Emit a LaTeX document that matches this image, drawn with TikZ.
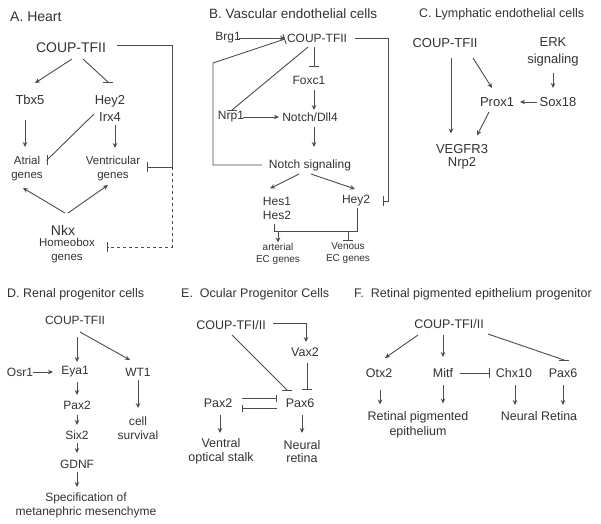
\documentclass[tikz,border=0pt]{standalone}
\usepackage{fontspec}
\setmainfont{Liberation Sans}
\usetikzlibrary{arrows.meta,calc}

\begin{document}
\begin{tikzpicture}[x=1pt,y=-1pt]
\tikzset{every node/.style={inner sep=0pt,align=center,text=black!80}}
\tikzset{ttl/.style={anchor=west,font=\fontsize{12.5}{15}\selectfont}}
\tikzset{f14/.style={font=\fontsize{14}{17}\selectfont}}
\tikzset{f13/.style={font=\fontsize{13}{17}\selectfont}}
\tikzset{f125/.style={font=\fontsize{12.5}{13.5}\selectfont}}
\tikzset{f12/.style={font=\fontsize{12}{14}\selectfont}}
\tikzset{f11/.style={font=\fontsize{11.5}{14}\selectfont}}
\tikzset{f10/.style={font=\fontsize{10}{12}\selectfont}}
\tikzset{lnk/.style={draw=black!70,line width=0.9pt}}
\tikzset{act/.style={lnk,-{Stealth[length=5pt,width=4.5pt]}}}
\tikzset{inh/.style={lnk,-{Bar[width=10pt]}}}
\tikzset{inhs/.style={lnk,-{Bar[width=7pt]}}}

\fill[white] (0,0) rectangle (601,523);
\useasboundingbox (0,0) rectangle (601,523);

% A. Heart
\node[ttl,f14] (tA) at (10,17) {A. Heart};
\node[f14] (coupa) at (71,48) {COUP-TFII};
\node[f13] (tbx5) at (30,100) {Tbx5};
\node[f13] (hey2) at (110,108) {Hey2\\Irx4};
\node[f11] (atrial) at (27,169) {Atrial\\genes};
\node[f11] (ventr) at (113,169) {Ventricular\\genes};
\node[f14] (nkx) at (63,230) {Nkx};
\node[f11] (homeo) at (67,251) {Homeobox\\genes};
\draw[act] ($(coupa)+(1,11)$) -- ($(tbx5)+(5,-17)$);
\draw[inh] ($(coupa)+(12,11)$) -- ($(hey2)+(-2,-26)$) -- ++(0,0.5);
\draw[act] ($(tbx5)+(-5,20)$) -- ($(atrial)+(-2,-22)$);
\draw[act] ($(hey2)+(5,17)$) -- ($(ventr)+(2,-21)$);
\draw[inh] ($(hey2)+(-16,6)$) -- ($(atrial)+(20,-9)$) -- ++(-0.5,0);
\draw[act] ($(nkx)+(2,-17)$) -- ($(atrial)+(-4,19)$);
\draw[act] ($(nkx)+(5,-17)$) -- ($(ventr)+(-5,16)$);
\draw[inh] ($(coupa)+(46,-3)$) -| ($(ventr)+(59,-2)$) -- ($(ventr)+(34,-2)$);
\draw[inh,dashed] ($(ventr)+(59,-2)$) |- ($(homeo)+(40,-4)$);

% B. Vascular endothelial cells
\node[ttl,font=\fontsize{13.5}{15}\selectfont] (tB) at (209,14) {B. Vascular endothelial cells};
\node[f12] (brg1) at (228,38) {Brg1};
\node[f12] (coupb) at (317,38) {COUP-TFII};
\node[f12] (foxc1) at (309,80) {Foxc1};
\node[f12] (nrp1) at (231,117) {Nrp1};
\node[f12] (notch) at (310,117) {Notch/Dll4};
\node[f12] (nsig) at (310,165) {Notch signaling};
\node[f12] (hes) at (277,208.5) {Hes1\\Hes2};
\node[f12] (hey2b) at (356,201) {Hey2};
\node[f10] (arter) at (278,253.5) {arterial\\EC genes};
\node[f10] (venous) at (348,253.5) {Venous\\EC genes};
\draw[act] ($(brg1)+(11,0)$) -- ($(coupb)+(-32,0)$);
\draw[inh] ($(coupb)+(38,0)$) -| ($(hey2b)+(32,0)$) -- ($(hey2b)+(27,0)$);
\draw[inh] ($(coupb)+(-3,9)$) -- ($(foxc1)+(5,-13)$);
\draw[act] ($(foxc1)+(5,10)$) -- ($(notch)+(4,-7)$);
\draw[inh] ($(coupb)+(-9,9)$) -- ($(nrp1)+(1,-7)$) -- ++(0,0.5);
\draw[act] ($(nrp1)+(12,0)$) -- ($(notch)+(-31,0)$);
\draw[act] ($(notch)+(4,10)$) -- ($(nsig)+(4,-18)$);
\draw[inh] ($(nsig)+(-48,0)$) -| ($(coupb)+(-104,25)$) -- ($(coupb)+(-32,1)$);
\draw[act] ($(nsig)+(-11,9)$) -- ($(hes)+(-7,-20)$);
\draw[act] ($(nsig)+(1,9)$) -- ($(hey2b)+(-1,-12)$);
\draw[lnk] ($(hes)+(-3,15)$) |- ($(hey2b)+(1,30)$) -- ($(hey2b)+(1,7)$);
\draw[act] ($(hes)+(1,22.5)$) -- ($(arter)+(0,-11)$);
\draw[inh] ($(hey2b)+(-8,30)$) -- ($(venous)+(0,-13)$);

% C. Lymphatic endothelial cells
\node[ttl] (tC) at (419,14) {C. Lymphatic endothelial cells};
\node[f13] (coupc) at (445,43) {COUP-TFII};
\node[f13] (erk) at (553,51.5) {ERK\\signaling};
\node[f13] (sox18) at (558,102) {Sox18};
\node[f13] (prox1) at (497,102) {Prox1};
\node[f13] (vegfr) at (462,156.5) {VEGFR3\\[-4pt]Nrp2};
\draw[act] ($(erk)+(0,21.5)$) -- ($(sox18)+(-5,-14)$);
\draw[act] ($(sox18)+(-21,0)$) -- ($(prox1)+(23,0)$);
\draw[act] ($(coupc)+(28,15)$) -- ($(prox1)+(-5,-14)$);
\draw[act] ($(coupc)+(6,15)$) -- ($(vegfr)+(-11,-23)$);
\draw[act] ($(prox1)+(-8,10)$) -- ($(vegfr)+(15,-21)$);

% D. Renal progenitor cells
\node[ttl] (tD) at (7,294) {D. Renal progenitor cells};
\node[f12] (coupd) at (75,320) {COUP-TFII};
\node[f12] (osr1) at (20,372) {Osr1};
\node[f12] (eya1) at (75,372) {Eya1};
\node[f12] (wt1) at (138,372) {WT1};
\node[f12] (pax2d) at (77,405) {Pax2};
\node[f12] (six2) at (77,435) {Six2};
\node[f12] (gdnf) at (77,464) {GDNF};
\node[f12] (spec) at (86,505) {Specification of\\metanephric mesenchyme};
\node[f12] (cell) at (138,428.5) {cell\\survival};
\draw[act] ($(coupd)+(2,17)$) -- ($(eya1)+(2,-10)$);
\draw[act] ($(coupd)+(5,12)$) -- ($(wt1)+(-8,-12)$);
\draw[act] ($(osr1)+(13,0)$) -- ($(eya1)+(-22,0)$);
\draw[act] ($(eya1)+(2,10)$) -- ($(pax2d)+(0,-10)$);
\draw[act] ($(pax2d)+(0,10)$) -- ($(six2)+(0,-10)$);
\draw[act] ($(six2)+(0,8)$) -- ($(gdnf)+(0,-11)$);
\draw[act] ($(gdnf)+(0,8)$) -- ($(spec)+(-9,-18)$);
\draw[act] ($(wt1)+(0,8)$) -- ($(cell)+(0,-20.5)$);

% E. Ocular progenitor cells
\node[ttl] (tE) at (181,294) {E.\ \ Ocular Progenitor Cells};
\node[f125] (coupe) at (231,325) {COUP-TFI/II};
\node[f125] (vax2) at (305,352) {Vax2};
\node[f125] (pax2e) at (218,403) {Pax2};
\node[f125] (pax6e) at (300,403) {Pax6};
\node[f125] (ventral) at (221,451.5) {Ventral\\optical stalk};
\node[f125] (neural) at (302,451.5) {Neural\\retina};
\draw[act] ($(coupe)+(42,-2)$) -| ($(vax2)+(1,-10)$);
\draw[inh] ($(vax2)+(2,11)$) -- ($(pax6e)+(7,-13)$);
\draw[inh] ($(coupe)+(1,10)$) -- ($(pax6e)+(-13,-13)$) -- ++(0,0.5);
\draw[inhs] ($(pax2e)+(24,-5)$) -- ($(pax6e)+(-23,-5)$);
\draw[inhs] ($(pax6e)+(-23,5)$) -- ($(pax2e)+(24,5)$);
\draw[act] ($(pax2e)+(2,12)$) -- ($(ventral)+(-1,-18.5)$);
\draw[act] ($(pax6e)+(2,12)$) -- ($(neural)+(0,-18.5)$);

% F. Retinal pigmented epithelium progenitor
\node[ttl] (tF) at (354,294) {F.\ \ Retinal pigmented epithelium progenitor};
\node[f125] (coupf) at (449,324) {COUP-TFI/II};
\node[f125] (otx2) at (379,373) {Otx2};
\node[f125] (mitf) at (443,373) {Mitf};
\node[f125] (chx10) at (514,373) {Chx10};
\node[f125] (pax6f) at (563,373) {Pax6};
\node[f125,font=\fontsize{12.5}{15}\selectfont] (rpe) at (418,424.5) {Retinal pigmented\\epithelium};
\node[f125] (nret) at (539,416) {Neural Retina};
\draw[act] ($(coupf)+(-31,11)$) -- ($(otx2)+(6,-15)$);
\draw[act] ($(coupf)+(-6,11)$) -- ($(mitf)+(0,-16)$);
\draw[inh] ($(coupf)+(39,10)$) -- ($(pax6f)+(1,-13)$) -- ++(0,0.5);
\draw[inh] ($(mitf)+(17,0)$) -- ($(chx10)+(-24,0)$);
\draw[act] ($(otx2)+(1,17)$) -- ($(rpe)+(-38,-20)$);
\draw[act] ($(mitf)+(0,12)$) -- ($(rpe)+(25,-21)$);
\draw[act] ($(chx10)+(1,12)$) -- ($(nret)+(-24,-11)$);
\draw[act] ($(pax6f)+(0,12)$) -- ($(nret)+(24,-11)$);
\end{tikzpicture}
\end{document}
